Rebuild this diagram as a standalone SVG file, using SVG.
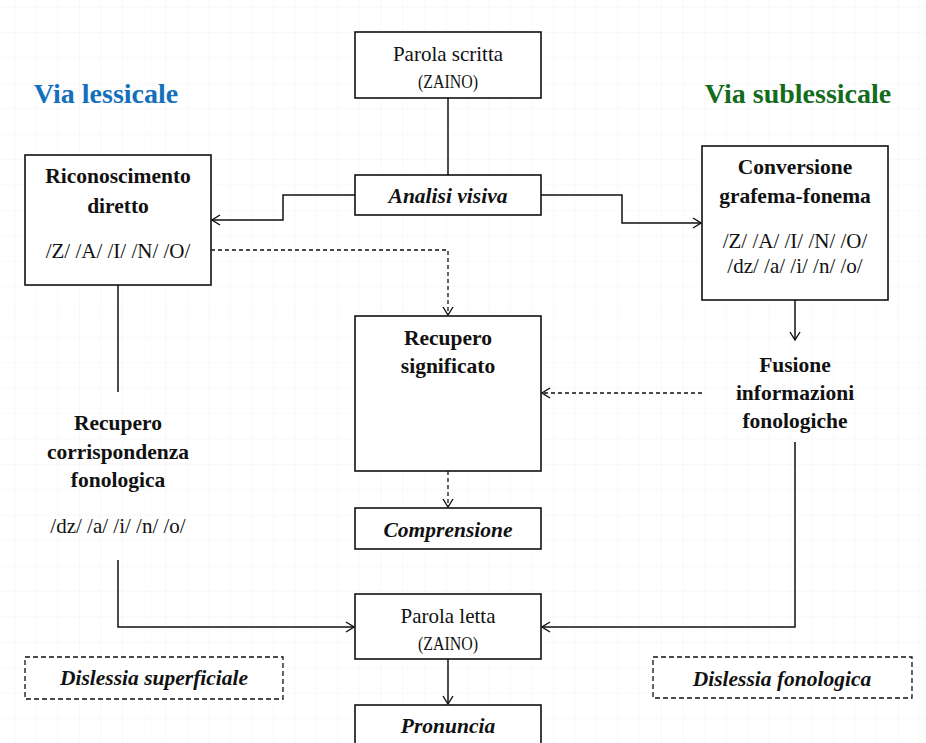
<svg xmlns="http://www.w3.org/2000/svg" width="926" height="743" viewBox="0 0 926 743">
<defs>
<pattern id="grid" x="14.3" y="6.7" width="21.55" height="25.4" patternUnits="userSpaceOnUse">
<path d="M0,0 V25.4 M0,0 H21.55" fill="none" stroke="#f3f3f3" stroke-width="1"/>
</pattern>
<marker id="arr" markerWidth="10" markerHeight="12" refX="9" refY="6" orient="auto" markerUnits="userSpaceOnUse">
<path d="M1,1 L9,6 L1,11" fill="none" stroke="#111" stroke-width="1.4"/>
</marker>
</defs>
<style>
.box{fill:#fff;stroke:#111;stroke-width:1.6}
.dbox{fill:#fff;stroke:#111;stroke-width:1.3;stroke-dasharray:5 3}
.ln{fill:none;stroke:#111;stroke-width:1.5}
.dl{fill:none;stroke:#111;stroke-width:1.3;stroke-dasharray:4 3}
text{font-family:"Liberation Serif","DejaVu Serif",serif;text-anchor:middle;fill:#111}
.b{font-weight:bold;font-size:21.5px}
.bi{font-weight:bold;font-style:italic;font-size:21.5px}
.r{font-size:21px}
.s{font-size:19px}
.t{font-weight:bold;font-size:28px}
</style>
<rect width="926" height="743" fill="#fff"/>
<rect width="926" height="743" fill="url(#grid)"/>
<g id="connectors">
<path class="ln" d="M448,98 V175"/>
<path class="ln" d="M355,195 H283 V220 H212" marker-end="url(#arr)"/>
<path class="ln" d="M541,195 H622 V223 H701" marker-end="url(#arr)"/>
<path class="dl" d="M211,250 H448 V315" marker-end="url(#arr)"/>
<path class="dl" d="M702,393 H542" marker-end="url(#arr)"/>
<path class="dl" d="M448,471 V507" marker-end="url(#arr)"/>
<path class="ln" d="M795,300 V340" marker-end="url(#arr)"/>
<path class="ln" d="M118,285 V392"/>
<path class="ln" d="M118,560 V627 H354" marker-end="url(#arr)"/>
<path class="ln" d="M795,442 V627 H542" marker-end="url(#arr)"/>
<path class="ln" d="M448,659 V704" marker-end="url(#arr)"/>
</g>
<g id="title-lessicale"><text class="t" x="106" y="103" style="fill:#1470BE">Via lessicale</text></g>
<g id="title-sublessicale"><text class="t" x="798" y="103" style="fill:#136B1C">Via sublessicale</text></g>
<g id="parola-scritta">
<rect class="box" x="355" y="32" width="186" height="66"/>
<text class="r" x="448" y="61">Parola scritta</text>
<text class="s" x="448" y="88" textLength="60" lengthAdjust="spacingAndGlyphs">(ZAINO)</text>
</g>
<g id="analisi-visiva">
<rect class="box" x="355" y="175" width="186" height="40"/>
<text class="bi" x="448" y="203">Analisi visiva</text>
</g>
<g id="riconoscimento">
<rect class="box" x="25" y="155" width="186" height="130"/>
<text class="b" x="118" y="183">Riconoscimento</text>
<text class="b" x="118" y="213">diretto</text>
<text class="r" x="118" y="258">/Z/ /A/ /I/ /N/ /O/</text>
</g>
<g id="conversione">
<rect class="box" x="702" y="146" width="186" height="154"/>
<text class="b" x="795" y="174">Conversione</text>
<text class="b" x="795" y="203">grafema-fonema</text>
<text class="r" x="795" y="248">/Z/ /A/ /I/ /N/ /O/</text>
<text class="r" x="795" y="273">/dz/ /a/ /i/ /n/ /o/</text>
</g>
<g id="recupero-significato">
<rect class="box" x="355" y="316" width="186" height="155"/>
<text class="b" x="448" y="345">Recupero</text>
<text class="b" x="448" y="373">significato</text>
</g>
<g id="fusione">
<text class="b" x="795" y="372">Fusione</text>
<text class="b" x="795" y="400">informazioni</text>
<text class="b" x="795" y="428">fonologiche</text>
</g>
<g id="recupero-corrispondenza">
<text class="b" x="118" y="430">Recupero</text>
<text class="b" x="118" y="459">corrispondenza</text>
<text class="b" x="118" y="487">fonologica</text>
<text class="r" x="118" y="533">/dz/ /a/ /i/ /n/ /o/</text>
</g>
<g id="comprensione">
<rect class="box" x="355" y="508" width="186" height="41"/>
<text class="bi" x="448" y="537">Comprensione</text>
</g>
<g id="parola-letta">
<rect class="box" x="355" y="594" width="186" height="65"/>
<text class="r" x="448" y="623">Parola letta</text>
<text class="s" x="448" y="650" textLength="60" lengthAdjust="spacingAndGlyphs">(ZAINO)</text>
</g>
<g id="pronuncia">
<rect class="box" x="355" y="705" width="186" height="50"/>
<text class="bi" x="448" y="733">Pronuncia</text>
</g>
<g id="dislessia-superficiale">
<rect class="dbox" x="25" y="657" width="258" height="42"/>
<text class="bi" x="154" y="685">Dislessia superficiale</text>
</g>
<g id="dislessia-fonologica">
<rect class="dbox" x="653" y="657" width="259" height="41"/>
<text class="bi" x="782" y="686">Dislessia fonologica</text>
</g>
</svg>
